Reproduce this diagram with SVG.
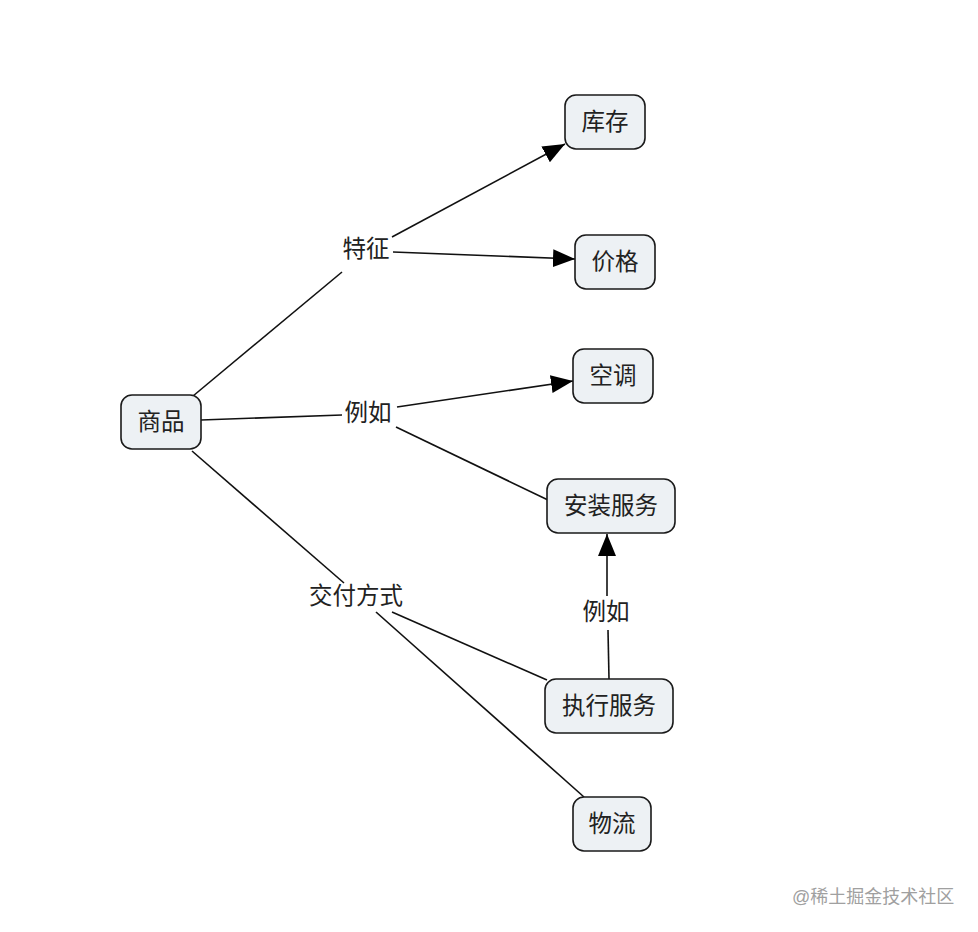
<svg xmlns="http://www.w3.org/2000/svg" width="978" height="932" viewBox="0 0 978 932">
<style>
.node rect{fill:#edf1f4;stroke:#1a1a1a;stroke-width:1.6}
.t{font-family:"Liberation Sans","Noto Sans CJK SC",sans-serif;font-size:23.5px;fill:#222;text-anchor:middle;dominant-baseline:central}
.c line{stroke:#111;stroke-width:1.6;fill:none}
.wm{font-family:"Liberation Sans","Noto Sans CJK SC",sans-serif;font-size:18px;fill:#a0a0a0}
</style>
<defs>
<marker id="ah" markerUnits="userSpaceOnUse" markerWidth="24" markerHeight="20" refX="22" refY="9" orient="auto">
<path d="M0,0 L22,9 L0,18 z" fill="#000"/>
</marker>
</defs>
<rect width="978" height="932" fill="#fff"/>
<g id="connectors" class="c">
<line x1="193" y1="396" x2="342" y2="272"/>
<line x1="392" y1="237" x2="565" y2="144" marker-end="url(#ah)"/>
<line x1="393" y1="252" x2="575" y2="259" marker-end="url(#ah)"/>
<line x1="201" y1="420" x2="342" y2="415"/>
<line x1="397" y1="407" x2="573" y2="381" marker-end="url(#ah)"/>
<line x1="396" y1="427" x2="548" y2="500"/>
<line x1="192" y1="451" x2="344" y2="583"/>
<line x1="392" y1="612" x2="547" y2="680"/>
<line x1="376" y1="612" x2="584" y2="797"/>
<line x1="609" y1="679" x2="608" y2="630"/>
<line x1="607" y1="596" x2="607" y2="534" marker-end="url(#ah)"/>
</g>
<g id="labels">
<text class="t" x="366" y="249">特征</text>
<text class="t" x="368" y="413">例如</text>
<text class="t" x="356" y="596">交付方式</text>
<text class="t" x="606" y="612">例如</text>
</g>
<g id="n-shangpin" class="node"><rect x="121" y="395" width="80" height="54" rx="11"/><text class="t" x="161" y="422">商品</text></g>
<g id="n-kucun" class="node"><rect x="565" y="95" width="80" height="54" rx="11"/><text class="t" x="605" y="122">库存</text></g>
<g id="n-jiage" class="node"><rect x="575" y="235" width="80" height="54" rx="11"/><text class="t" x="615" y="262">价格</text></g>
<g id="n-kongtiao" class="node"><rect x="573" y="349" width="80" height="54" rx="11"/><text class="t" x="613" y="376">空调</text></g>
<g id="n-anzhuang" class="node"><rect x="547" y="479" width="128" height="54" rx="11"/><text class="t" x="611" y="506">安装服务</text></g>
<g id="n-zhixing" class="node"><rect x="545" y="679" width="128" height="54" rx="11"/><text class="t" x="609" y="706">执行服务</text></g>
<g id="n-wuliu" class="node"><rect x="573" y="797" width="78" height="54" rx="11"/><text class="t" x="612" y="824">物流</text></g>
<text class="wm" x="792" y="903">@稀土掘金技术社区</text>
</svg>
